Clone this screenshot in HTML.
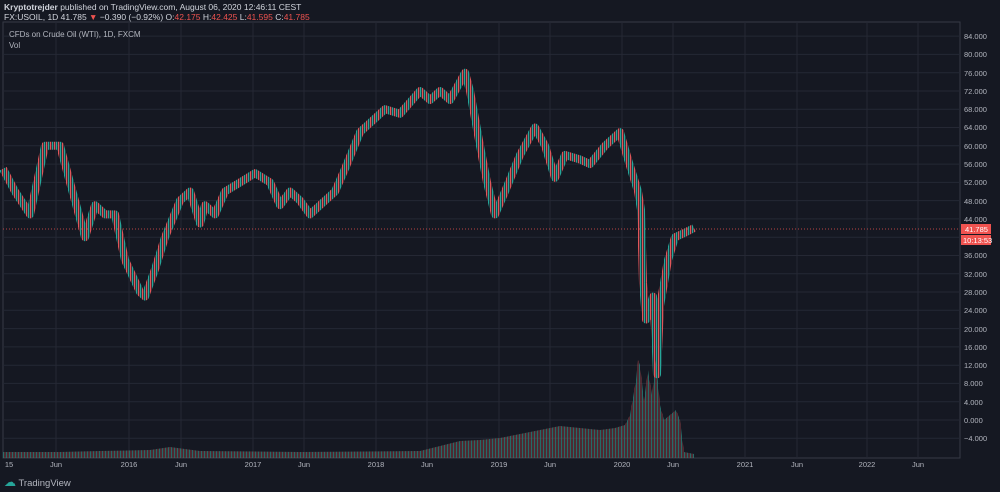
<!DOCTYPE html>
<html><head><meta charset="utf-8"><style>
html,body{margin:0;padding:0;background:#151822;width:1000px;height:492px;overflow:hidden;font-family:"Liberation Sans",sans-serif}
.t{position:absolute;white-space:nowrap}
svg text{font-family:"Liberation Sans",sans-serif}
</style></head><body>
<svg width="1000" height="492" style="position:absolute;left:0;top:0">
<defs>
<pattern id="p" width="4" height="8" patternUnits="userSpaceOnUse">
<rect x="0" y="0" width="1.3" height="8" fill="#26a69a"/>
<rect x="2" y="0" width="1.3" height="8" fill="#e0565a"/>
</pattern>
<pattern id="v" width="3" height="8" patternUnits="userSpaceOnUse">
<rect x="0" y="0" width="1" height="8" fill="#2a7f78"/>
<rect x="1.5" y="0" width="1" height="8" fill="#a0454a"/>
</pattern>
</defs>
<rect x="3" y="22" width="957" height="436" fill="#151822" stroke="#363a45"/>
<g stroke="#252834" stroke-width="1">
<line x1="3" x2="960" y1="36.1" y2="36.1"/><line x1="3" x2="960" y1="54.4" y2="54.4"/><line x1="3" x2="960" y1="72.7" y2="72.7"/><line x1="3" x2="960" y1="91" y2="91"/><line x1="3" x2="960" y1="109.2" y2="109.2"/><line x1="3" x2="960" y1="127.5" y2="127.5"/><line x1="3" x2="960" y1="145.8" y2="145.8"/><line x1="3" x2="960" y1="164.1" y2="164.1"/><line x1="3" x2="960" y1="182.4" y2="182.4"/><line x1="3" x2="960" y1="200.6" y2="200.6"/><line x1="3" x2="960" y1="218.9" y2="218.9"/><line x1="3" x2="960" y1="237.2" y2="237.2"/><line x1="3" x2="960" y1="255.5" y2="255.5"/><line x1="3" x2="960" y1="273.8" y2="273.8"/><line x1="3" x2="960" y1="292" y2="292"/><line x1="3" x2="960" y1="310.3" y2="310.3"/><line x1="3" x2="960" y1="328.6" y2="328.6"/><line x1="3" x2="960" y1="346.9" y2="346.9"/><line x1="3" x2="960" y1="365.2" y2="365.2"/><line x1="3" x2="960" y1="383.4" y2="383.4"/><line x1="3" x2="960" y1="401.7" y2="401.7"/><line x1="3" x2="960" y1="420" y2="420"/><line x1="3" x2="960" y1="438.3" y2="438.3"/>
<line x1="56" x2="56" y1="22" y2="458"/><line x1="129" x2="129" y1="22" y2="458"/><line x1="181" x2="181" y1="22" y2="458"/><line x1="253" x2="253" y1="22" y2="458"/><line x1="304" x2="304" y1="22" y2="458"/><line x1="376" x2="376" y1="22" y2="458"/><line x1="427" x2="427" y1="22" y2="458"/><line x1="499" x2="499" y1="22" y2="458"/><line x1="550" x2="550" y1="22" y2="458"/><line x1="622" x2="622" y1="22" y2="458"/><line x1="673" x2="673" y1="22" y2="458"/><line x1="745" x2="745" y1="22" y2="458"/><line x1="797" x2="797" y1="22" y2="458"/><line x1="867" x2="867" y1="22" y2="458"/><line x1="918" x2="918" y1="22" y2="458"/>
</g>
<g font-size="7.5" fill="#b2b5be">
<text x="964" y="39">84.000</text><text x="964" y="57">80.000</text><text x="964" y="76">76.000</text><text x="964" y="94">72.000</text><text x="964" y="112">68.000</text><text x="964" y="130">64.000</text><text x="964" y="149">60.000</text><text x="964" y="167">56.000</text><text x="964" y="185">52.000</text><text x="964" y="204">48.000</text><text x="964" y="222">44.000</text><text x="964" y="258">36.000</text><text x="964" y="277">32.000</text><text x="964" y="295">28.000</text><text x="964" y="313">24.000</text><text x="964" y="332">20.000</text><text x="964" y="350">16.000</text><text x="964" y="368">12.000</text><text x="964" y="386">8.000</text><text x="964" y="405">4.000</text><text x="964" y="423">0.000</text><text x="964" y="441">−4.000</text>
</g>
<g font-size="7.5" fill="#b2b5be" text-anchor="middle">
<text x="9" y="467">15</text><text x="56" y="467">Jun</text><text x="129" y="467">2016</text><text x="181" y="467">Jun</text><text x="253" y="467">2017</text><text x="304" y="467">Jun</text><text x="376" y="467">2018</text><text x="427" y="467">Jun</text><text x="499" y="467">2019</text><text x="550" y="467">Jun</text><text x="622" y="467">2020</text><text x="673" y="467">Jun</text><text x="745" y="467">2021</text><text x="797" y="467">Jun</text><text x="867" y="467">2022</text><text x="918" y="467">Jun</text>
</g>
<!-- volume -->
<polygon fill="url(#v)" opacity="0.8" points="3,458 3,452 60,452 100,451 150,450 170,447 200,451 300,452 420,451 440,446 460,441 480,440 500,438 520,434 540,430 560,426 580,428 600,430 615,428 625,425 630,415 636,380 638,360 640,365 644,400 648,370 652,395 656,360 660,405 664,420 670,415 676,410 680,420 684,452 694,454 694,458"/>
<!-- price -->
<polyline fill="none" stroke="url(#p)" stroke-width="8" stroke-linejoin="round" points="3,168.7 15,191.5 30,214.4 45,145.8 60,145.8 70,182.4 85,237.2 95,205.2 105,214.4 115,214.4 125,260 140,292 145,296.6 155,269.2 165,237.2 180,200.6 190,191.5 200,223.5 205,205.2 215,214.4 225,191.5 240,182.4 255,173.2 270,182.4 280,205.2 290,191.5 300,200.6 310,214.4 320,205.2 335,191.5 345,168.7 360,132.1 370,122.9 385,109.2 400,113.8 420,91 430,100.1 440,91 450,100.1 465,72.7 470,91 480,145.8 487,182.4 495,214.4 505,191.5 520,154.9 535,127.5 545,145.8 555,177.8 565,154.9 580,159.5 590,164.1 605,145.8 620,132.1 628,159.5 638,191.5 641,209.8 643,282.9 646,319.5 650,310.3 653,296.6 655,328.6 657,374.3 660,305.8 664,282.9 668,260 675,237.2 685,232.6 694,228"/>
<line x1="3" x2="960" y1="229" y2="229" stroke="#ef5350" stroke-dasharray="1,2" stroke-width="0.8"/>
<rect x="961" y="224" width="30" height="10" fill="#ef5350"/><text x="965" y="232" font-size="7.5" fill="#fff">41.785</text>
<rect x="961" y="235" width="30" height="10" fill="#ef5350"/><text x="963" y="243" font-size="7.5" fill="#fff">10:13:53</text>
</svg>
<div class="t" style="left:4px;top:2px;font-size:8.5px;color:#d1d4dc"><b>Kryptotrejder</b> published on TradingView.com, August 06, 2020 12:46:11 CEST</div>
<div class="t" style="left:4px;top:12px;font-size:8.5px;color:#d1d4dc">FX:USOIL, 1D 41.785 <span style="color:#ef5350">▼</span> −0.390 (−0.92%) O:<span style="color:#ef5350">42.175</span> H:<span style="color:#ef5350">42.425</span> L:<span style="color:#ef5350">41.595</span> C:<span style="color:#ef5350">41.785</span></div>
<div class="t" style="left:9px;top:30px;font-size:8px;color:#b2b5be">CFDs on Crude Oil (WTI), 1D, FXCM</div>
<div class="t" style="left:9px;top:41px;font-size:8px;color:#b2b5be">Vol</div>
<div class="t" style="left:4px;top:475px;font-size:9.5px;color:#b2b5be"><span style="color:#26a69a;font-size:12px">☁</span> TradingView</div>
</body></html>
